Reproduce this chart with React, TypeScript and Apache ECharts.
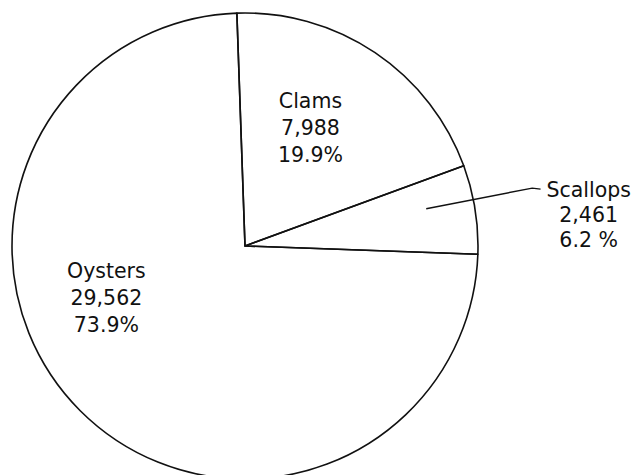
import React, { useEffect, useRef } from 'react';
import * as echarts from 'echarts';

const categories = ['Clams', 'Scallops', 'Oysters'];
const values = [7988, 2461, 29562];
const percentLabels = ['19.9%', '6.2 %', '73.9%'];

const CX = 245;
const CY = 246;
const R = 233;
// label centres, polar: [angle in degrees counter-clockwise from east, distance from centre]
const labelPolar: [number, number][] = [
  [61, 135],
  [5.1, 345],
  [200.5, 148],
];
// Scallops leader line, polar points
const leaderPolar: [number, number][] = [
  [11.6, 185],
  [11.4, 293],
  [10.9, 301],
];

const polar = (a: number, d: number): [number, number] => {
  const r = (a * Math.PI) / 180;
  return [CX + d * Math.cos(r), CY - d * Math.sin(r)];
};

const fmt = (n: number) => String(n).replace(/\B(?=(\d{3})+(?!\d))/g, ',');

export default function App() {
  const ref = useRef<HTMLDivElement>(null);
  useEffect(() => {
    if (!ref.current) return;
    const chart = echarts.init(ref.current, undefined, { renderer: 'svg' });
    chart.setOption({
      animation: false,
      backgroundColor: '#ffffff',
      series: [
        {
          type: 'pie',
          center: [CX, CY],
          radius: [0, R],
          startAngle: 92,
          clockwise: true,
          avoidLabelOverlap: false,
          silent: true,
          emphasis: { disabled: true },
          itemStyle: { color: 'rgba(255,255,255,0)', borderColor: '#111111', borderWidth: 1.6 },
          label: {
            show: true,
            position: 'inside',
            color: '#111111',
            fontFamily: 'DejaVu Sans',
            fontSize: 20.5,
            lineHeight: 27,
            align: 'center',
            formatter: (p: any) =>
              `${p.name}\n${fmt(p.value)}\n${percentLabels[p.dataIndex]}`,
          },
          labelLine: { show: false },
          labelLayout: (p: any) => {
            const [x, y] = polar(labelPolar[p.dataIndex][0], labelPolar[p.dataIndex][1]);
            const out: any = { x, y, align: 'center', verticalAlign: 'middle' };
            if (p.dataIndex === 1) {
              out.labelLinePoints = leaderPolar.map(([a, d]) => polar(a, d));
            }
            return out;
          },
          data: categories.map((name, i) =>
            i === 1
              ? {
                  name,
                  value: values[i],
                  label: { position: 'outside', lineHeight: 25 },
                  labelLine: {
                    show: true,
                    length: 10,
                    length2: 10,
                    lineStyle: { color: '#111111', width: 1.4 },
                  },
                }
              : { name, value: values[i] }
          ),
        },
      ],
    });
    return () => chart.dispose();
  }, []);
  return (
    <div
      ref={ref}
      style={{ position: 'fixed', left: 0, top: 0, width: 637, height: 475, background: '#fff' }}
    />
  );
}
